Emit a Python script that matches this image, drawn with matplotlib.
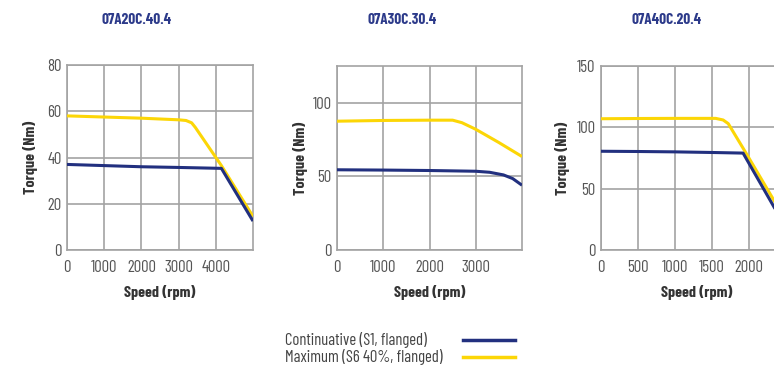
import matplotlib
matplotlib.use("Agg")
import matplotlib.pyplot as plt
from matplotlib.lines import Line2D

plt.rcParams["font.family"] = ["Barlow Condensed", "DejaVu Sans"]

NAVY = "#22307f"
YELLOW = "#fcd606"
GRID = "#a3a3a3"
TITLE_C = "#2c3a8a"

TITLES = ["07A20C.40.4", "07A30C.30.4", "07A40C.20.4"]
LEGEND = ["Continuative (S1, flanged)", "Maximum (S6 40%, flanged)"]

# panel 1
p1_cont_x = [0, 1000, 2000, 3000, 4150, 5000]
p1_cont_y = [37, 36.5, 36, 35.7, 35.3, 12.5]
p1_max_x = [0, 1000, 2000, 3000, 3200, 3350, 3450, 4150, 5000]
p1_max_y = [58, 57.5, 57, 56.3, 56, 55, 53, 36.5, 14.5]
# panel 2
p2_cont_x = [0, 1000, 2000, 3000, 3300, 3600, 3800, 4000]
p2_cont_y = [54.5, 54.3, 54, 53.5, 52.8, 51, 48.5, 44]
p2_max_x = [0, 1000, 2000, 2500, 2700, 3000, 3500, 4000]
p2_max_y = [87.5, 88, 88.2, 88.2, 86.5, 82, 73, 63.5]
# panel 3
p3_cont_x = [0, 500, 1000, 1500, 1920, 2400]
p3_cont_y = [80.5, 80.3, 80, 79.5, 79, 28.5]
p3_max_x = [0, 500, 1000, 1550, 1650, 1720, 1950, 2400]
p3_max_y = [107, 107.2, 107.3, 107.3, 106, 103, 80, 34]

PANELS = [
    (p1_cont_x, p1_cont_y, p1_max_x, p1_max_y, [0, 1000, 2000, 3000, 4000], 5000,
     [0, 20, 40, 60, 80], 80),
    (p2_cont_x, p2_cont_y, p2_max_x, p2_max_y, [0, 1000, 2000, 3000], 4000,
     [0, 50, 100], 125),
    (p3_cont_x, p3_cont_y, p3_max_x, p3_max_y, [0, 500, 1000, 1500, 2000], 2500,
     [0, 50, 100, 150], 150),
]

W, H = 774, 366
fig = plt.figure(figsize=(W / 100, H / 100), dpi=100)

# axes boxes in pixels: left, top, width, height
boxes = [(67, 65, 186, 185), (337, 66, 185, 184), (601, 66, 185, 184)]
title_x = [137, 402, 667]
ylab_x = [30, 300, 562]
xlab_x = [160, 430, 697]

for i, (cx, cy, mx, my, xt, xmax, yt, ymax) in enumerate(PANELS):
    l, t, w, h = boxes[i]
    ax = fig.add_axes([l / W, 1 - (t + h) / H, w / W, h / H])
    ax.plot(mx, my, color=YELLOW, lw=2.2, solid_capstyle="butt", zorder=3)
    ax.plot(cx, cy, color=NAVY, lw=2.2, solid_capstyle="butt", zorder=4)
    ax.set_xlim(0, xmax)
    ax.set_ylim(0, ymax)
    ax.set_xticks(xt)
    ax.set_yticks(yt)
    ax.grid(True, color=GRID, lw=1.2)
    ax.set_axisbelow(True)
    for s in ax.spines.values():
        s.set_color(GRID)
        s.set_linewidth(1.2)
    ax.tick_params(length=0, labelsize=12, labelcolor="#555555")
    ax.tick_params(axis="x", pad=7)
    ax.tick_params(axis="y", pad=4)
    fig.text(title_x[i] / W, 1 - 20 / H, TITLES[i], ha="center", va="center",
             fontsize=11, fontweight="bold", color=TITLE_C)
    fig.text(ylab_x[i] / W, 1 - (t + h / 2) / H, "Torque (Nm)", rotation=90,
             ha="center", va="center", fontsize=11.5, fontweight="bold", color="#333333")
    fig.text(xlab_x[i] / W, 1 - 292 / H, "Speed (rpm)", ha="center", va="center",
             fontsize=11.5, fontweight="bold", color="#333333")

# legend
for j, (txt, col) in enumerate(zip(LEGEND, [NAVY, YELLOW])):
    y = 1 - (340 + 17 * j) / H
    fig.text(285 / W, y, txt, ha="left", va="center", fontsize=12, color="#444444")
    fig.add_artist(Line2D([463 / W, 515 / W], [y, y], color=col, lw=2.5,
                          transform=fig.transFigure))

fig.savefig("out.png", dpi=100)
